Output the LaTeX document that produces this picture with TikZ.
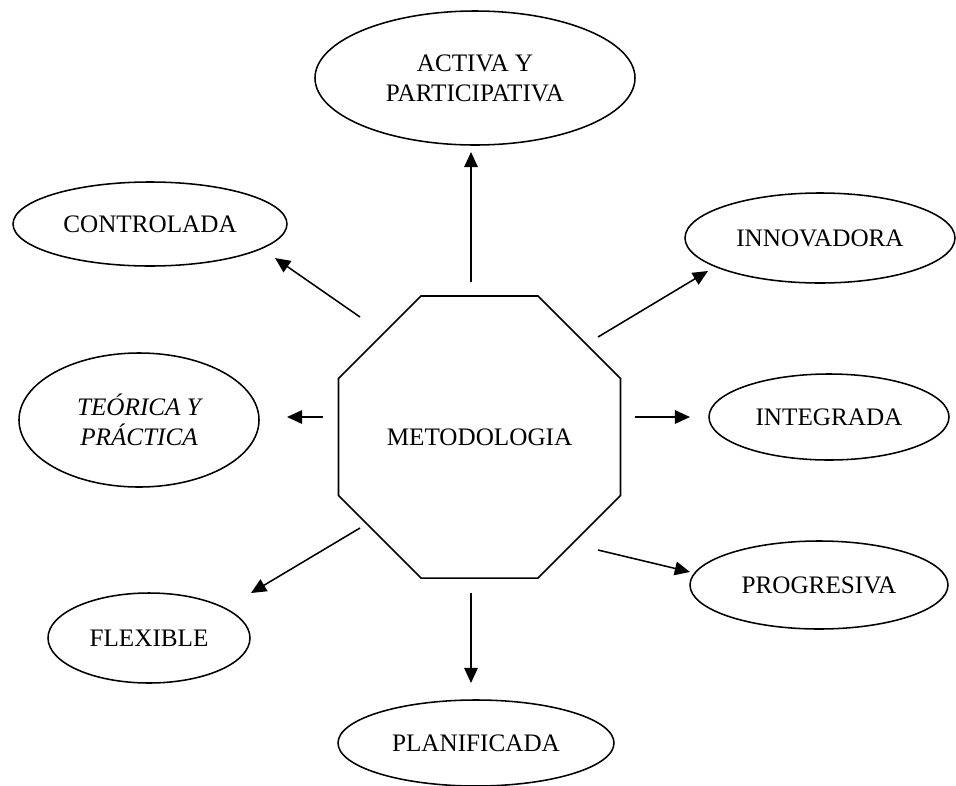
\documentclass[tikz,border=0pt]{standalone}
\usepackage{fontspec}
\setmainfont{Liberation Serif}
\usetikzlibrary{
	arrows.meta,
	calc,
	positioning,
	shapes.geometric,
}
\newcommand{\pxu}{0.025cm}

\begin{document}
\begin{tikzpicture}[
		x=\pxu, y=-\pxu,
		every node/.style={font=\fontsize{17.9}{21.5}\selectfont, align=center},
		oval/.style 2 args = {ellipse, draw, line width=1.1pt, inner sep=0pt, outer sep=0pt,
			minimum width=#1*\pxu, minimum height=#2*\pxu},
		octo/.style = {regular polygon, regular polygon sides=8, draw,
			line width=1.1pt, minimum size=7.63cm, inner sep=0pt, outer sep=0pt},
		arr/.style = {line width=1.1pt, -{Triangle[length=3.8mm, width=3.4mm]}},
	]
	\useasboundingbox (0,0) rectangle (956,785);
	% centro
	\node[octo] (met) at (479.5,437) {METODOLOGIA};
	% alrededor
	\node[oval={320}{134}] (act) at (475,78) {ACTIVA Y\\PARTICIPATIVA};
	\node[oval={274}{84}]  (ctl) at (150,224) {CONTROLADA};
	\node[oval={270}{90}]  (inn) at (820,238) {INNOVADORA};
	\node[oval={240}{134}, font=\fontsize{17.9}{21.5}\selectfont\itshape]
		(teo) at (139,420) {TEÓRICA Y\\PRÁCTICA};
	\node[oval={240}{86}]  (itg) at (829,417) {INTEGRADA};
	\node[oval={202}{90}]  (flx) at (149,638) {FLEXIBLE};
	\node[oval={258}{88}]  (prg) at (819,585) {PROGRESIVA};
	\node[oval={276}{86}]  (pln) at (476,743) {PLANIFICADA};
	% flechas
	\foreach \n/\a/\b in {act/{-8.5,-155}/{-4,74},
			ctl/{-119.5,-120}/{125,34},
			inn/{118.5,-100}/{-112,33},
			teo/{-156.5,-20}/{148,-3},
			itg/{155.5,-20}/{-139,0},
			prg/{118.5,113}/{-129,-13},
			flx/{-119.5,91}/{102,-45},
			pln/{-8.5,156}/{-5,-60}}
		\draw[arr] ($(met)+(\a)$) -- ($(\n)+(\b)$);
\end{tikzpicture}
\end{document}
